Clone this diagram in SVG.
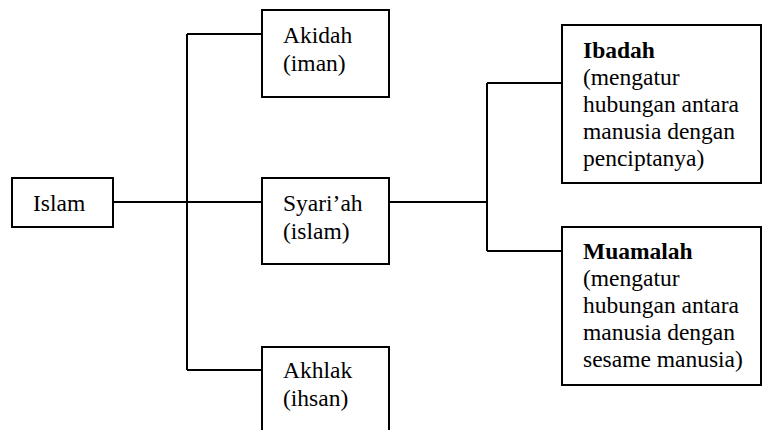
<svg xmlns="http://www.w3.org/2000/svg" width="762" height="430" viewBox="0 0 762 430">
<style>
.box{fill:#fff;stroke:#000;stroke-width:2}
.ln{fill:none;stroke:#000;stroke-width:2}
.t{font-family:'Liberation Serif','Times New Roman',Tinos,'DejaVu Serif',serif;font-size:23.5px;fill:#000}
.b{font-weight:bold}
</style>
<rect width="762" height="430" fill="#fff"/>
<g id="connectors">
<path class="ln" d="M113 202H262M187 34V370M187 34H262M187 370H264"/>
<path class="ln" d="M387 202H487M487 83V251M487 83H562M487 251H562"/>
</g>
<g id="islam">
<rect class="box" x="12" y="178" width="101" height="49"/>
<text class="t" x="33" y="211">Islam</text>
</g>
<g id="akidah">
<rect class="box" x="262" y="10" width="127" height="87"/>
<text class="t" x="283" y="43">Akidah</text>
<text class="t" x="283" y="71">(iman)</text>
</g>
<g id="syariah">
<rect class="box" x="262" y="178" width="127" height="86"/>
<text class="t" x="283" y="211">Syari’ah</text>
<text class="t" x="283" y="239">(islam)</text>
</g>
<g id="akhlak">
<rect class="box" x="262" y="347" width="127" height="100"/>
<text class="t" x="283" y="378">Akhlak</text>
<text class="t" x="283" y="406">(ihsan)</text>
</g>
<g id="ibadah">
<rect class="box" x="562" y="25" width="199" height="158"/>
<text class="t" x="583" y="58"><tspan class="b">Ibadah</tspan><tspan x="583" dy="27">(mengatur</tspan><tspan x="583" dy="27">hubungan antara</tspan><tspan x="583" dy="27">manusia dengan</tspan><tspan x="583" dy="27">penciptanya)</tspan></text>
</g>
<g id="muamalah">
<rect class="box" x="562" y="227" width="199" height="158"/>
<text class="t" x="583" y="259"><tspan class="b">Muamalah</tspan><tspan x="583" dy="27">(mengatur</tspan><tspan x="583" dy="27">hubungan antara</tspan><tspan x="583" dy="27">manusia dengan</tspan><tspan x="583" dy="27">sesame manusia)</tspan></text>
</g>
</svg>
